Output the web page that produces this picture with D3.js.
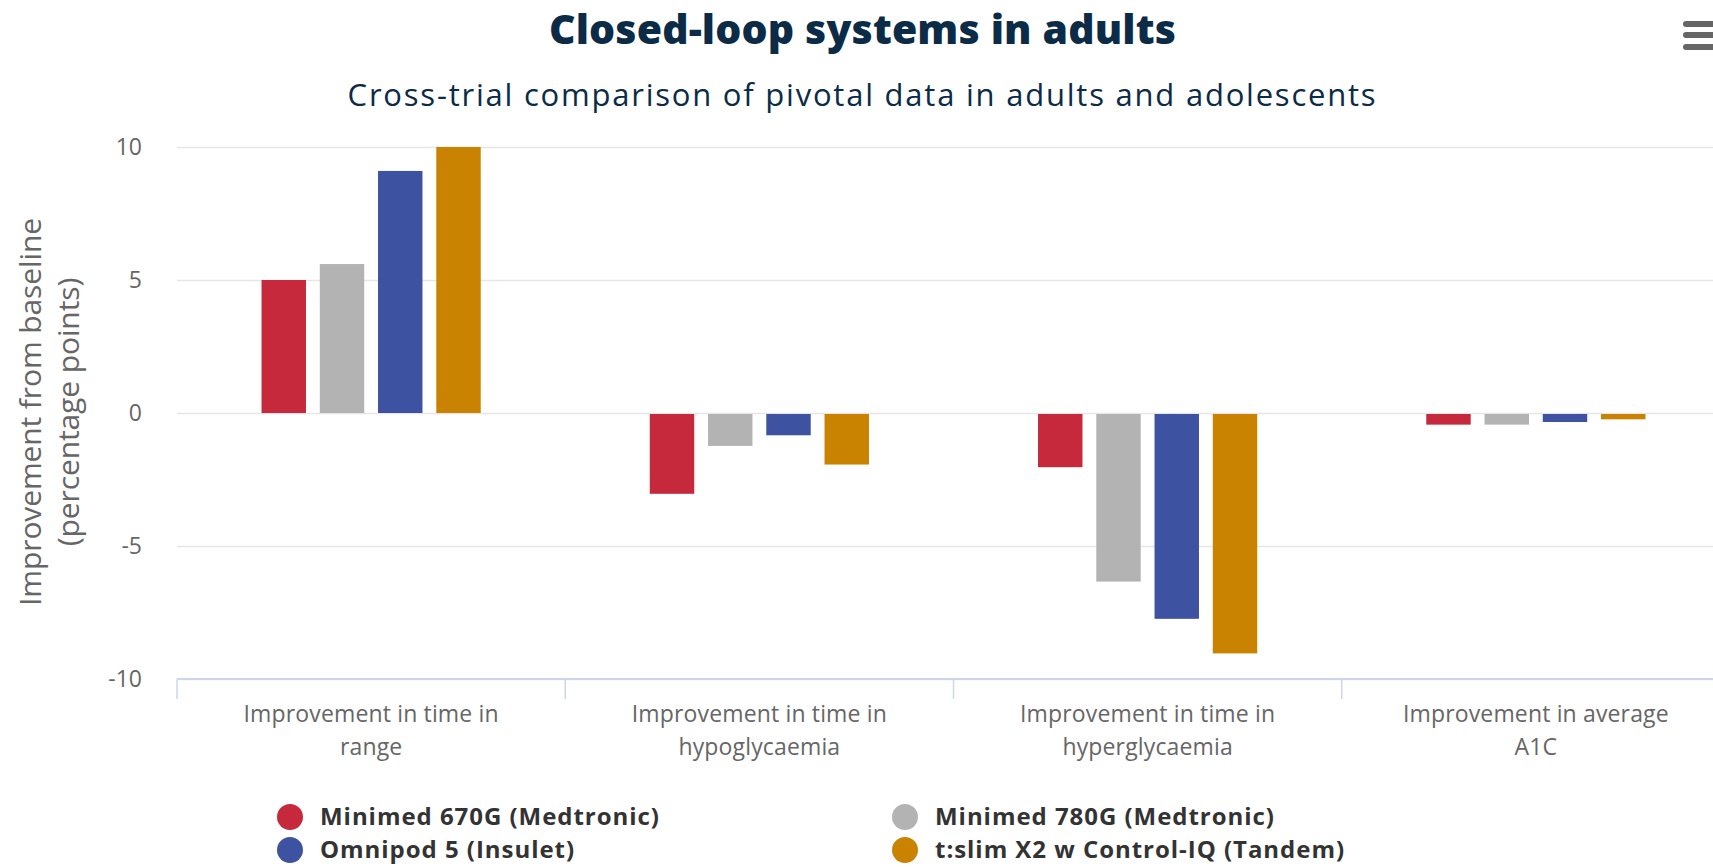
<!DOCTYPE html>
<html>
<head>
<meta charset="utf-8">
<script src="https://cdn.jsdelivr.net/npm/d3@7/dist/d3.min.js"></script>
<style>
  html, body { margin: 0; padding: 0; background: #fff; overflow: hidden; }
  svg { display: block; font-family: "Open Sans", "Lato", sans-serif; }
</style>
</head>
<body>
<svg id="chart" width="1725" height="867"></svg>
<script>
const categories = [
  ["Improvement in time in", "range"],
  ["Improvement in time in", "hypoglycaemia"],
  ["Improvement in time in", "hyperglycaemia"],
  ["Improvement in average", "A1C"]
];
const seriesNames = [
  "Minimed 670G (Medtronic)",
  "Minimed 780G (Medtronic)",
  "Omnipod 5 (Insulet)",
  "t:slim X2 w Control-IQ (Tandem)"
];
const minimed670G = [5.0, -3.0, -2.0, -0.4];
const minimed780G = [5.6, -1.2, -6.3, -0.4];
const omnipod5 = [9.1, -0.8, -7.7, -0.3];
const tslimX2 = [10.0, -1.9, -9.0, -0.2];
const seriesValues = [minimed670G, minimed780G, omnipod5, tslimX2];
const seriesColors = ["#c6283c", "#b3b3b3", "#3d52a1", "#c98300"];
const yTicks = [-10, -5, 0, 5, 10];

const svg = d3.select("#chart");
const W = 1725;
const plotL = 177, plotR = 1730, plotT = 147, plotB = 679;

// adjust letter-spacing so that a reference string reaches a target width
function spacingFor(el, target) {
  const w = el.getComputedTextLength();
  const n = el.textContent.length;
  return (target - w) / Math.max(1, n - 1);
}

const catIdx = categories.map((c, i) => i);
const x0 = d3.scaleBand().domain(catIdx).range([plotL, plotR]).padding(0);
const bw = x0.bandwidth();
const x1 = d3.scaleBand().domain(d3.range(seriesNames.length))
  .range([bw * 0.2, bw * 0.8]).paddingInner(0.237).paddingOuter(0.118);
const y = d3.scaleLinear().domain([-10, 10]).range([plotB, plotT]);

// Title & subtitle
const title = svg.append("text").attr("x", W / 2).attr("y", 44).attr("text-anchor", "middle")
  .attr("font-size", 41).attr("font-weight", 800).attr("fill", "#0c2b47")
  .text("Closed-loop systems in adults");
title.attr("letter-spacing", spacingFor(title.node(), 627));
const sub = svg.append("text").attr("x", W / 2).attr("y", 106).attr("text-anchor", "middle")
  .attr("font-size", 31).attr("fill", "#0c2b47")
  .text("Cross-trial comparison of pivotal data in adults and adolescents");
sub.attr("letter-spacing", spacingFor(sub.node(), 1028));

// Menu icon
[24, 35, 47].forEach(yy => {
  svg.append("line").attr("x1", 1686).attr("x2", 1716).attr("y1", yy).attr("y2", yy)
    .attr("stroke", "#666").attr("stroke-width", 6).attr("stroke-linecap", "round");
});

// Gridlines + y axis labels
const yAxis = d3.axisLeft(y).tickValues(yTicks).tickSize(-(plotR - plotL)).tickFormat(d => String(d));
const gy = svg.append("g").attr("transform", `translate(${plotL},0)`).call(yAxis);
gy.select(".domain").remove();
gy.selectAll(".tick line").attr("stroke", "#e6e6e6").attr("stroke-width", 1.5);
gy.selectAll(".tick text").attr("x", -35).attr("font-size", 23).attr("fill", "#666")
  .attr("font-family", "Open Sans, sans-serif");

// Bars
const groups = svg.append("g").selectAll("g").data(catIdx).join("g")
  .attr("transform", d => `translate(${x0(d)},0)`);
groups.selectAll("rect")
  .data(ci => seriesValues.map((vals, si) => ({ si, v: vals[ci] })))
  .join("rect")
  .attr("x", d => x1(d.si))
  .attr("width", x1.bandwidth())
  .attr("y", d => d.v >= 0 ? y(d.v) : y(0) + 1)
  .attr("height", d => Math.abs(y(d.v) - y(0)))
  .attr("fill", d => seriesColors[d.si]);

// X axis
const xAxisG = svg.append("g").attr("transform", `translate(0,${plotB})`);
xAxisG.append("line").attr("x1", plotL).attr("x2", plotR).attr("stroke", "#ccd6eb").attr("stroke-width", 2);
const boundaries = catIdx.map(i => x0(i)).concat([plotR]);
xAxisG.selectAll("line.tk").data(boundaries).join("line").attr("class", "tk")
  .attr("x1", d => d).attr("x2", d => d).attr("y1", 0).attr("y2", 20)
  .attr("stroke", "#ccd6eb").attr("stroke-width", 1.5);
const xl = svg.append("g").selectAll("text").data(catIdx).join("text")
  .attr("x", i => x0(i) + bw / 2).attr("y", 722).attr("text-anchor", "middle")
  .attr("font-size", 23).attr("fill", "#666");
xl.each(function (i) {
  const t = d3.select(this);
  categories[i].forEach((line, k) => {
    t.append("tspan").attr("x", x0(i) + bw / 2).attr("dy", k === 0 ? 0 : 33).text(line);
  });
});
{
  const probe = svg.append("text").attr("font-size", 23).text(categories[0][0]);
  const ls = spacingFor(probe.node(), 255);
  probe.remove();
  xl.attr("letter-spacing", ls);
}

// Y axis title
const yt = svg.append("text").attr("transform", "translate(41,412) rotate(-90)")
  .attr("text-anchor", "middle").attr("font-size", 30).attr("fill", "#666");
yt.append("tspan").attr("x", 0).attr("dy", 0).text("Improvement from baseline");
yt.append("tspan").attr("x", 0).attr("dy", 38).text("(percentage points)");
{
  const probe = svg.append("text").attr("font-size", 30).text("Improvement from baseline");
  const ls = spacingFor(probe.node(), 388);
  probe.remove();
  yt.attr("letter-spacing", ls);
}

// Legend
const legendPos = [[290, 817], [905, 817], [290, 850], [905, 850]];
const legendOrder = [0, 1, 2, 3];
const lg = svg.append("g").selectAll("g").data(legendOrder).join("g")
  .attr("transform", (d, k) => `translate(${legendPos[k][0]},${legendPos[k][1]})`);
lg.append("circle").attr("r", 13).attr("fill", d => seriesColors[d]);
const lt = lg.append("text").attr("x", 30).attr("y", 8).attr("font-size", 24).attr("font-weight", 700)
  .attr("fill", "#333").text(d => seriesNames[d]);
{
  const ls = spacingFor(lt.nodes()[0], 339);
  lt.attr("letter-spacing", ls);
}
</script>
</body>
</html>
